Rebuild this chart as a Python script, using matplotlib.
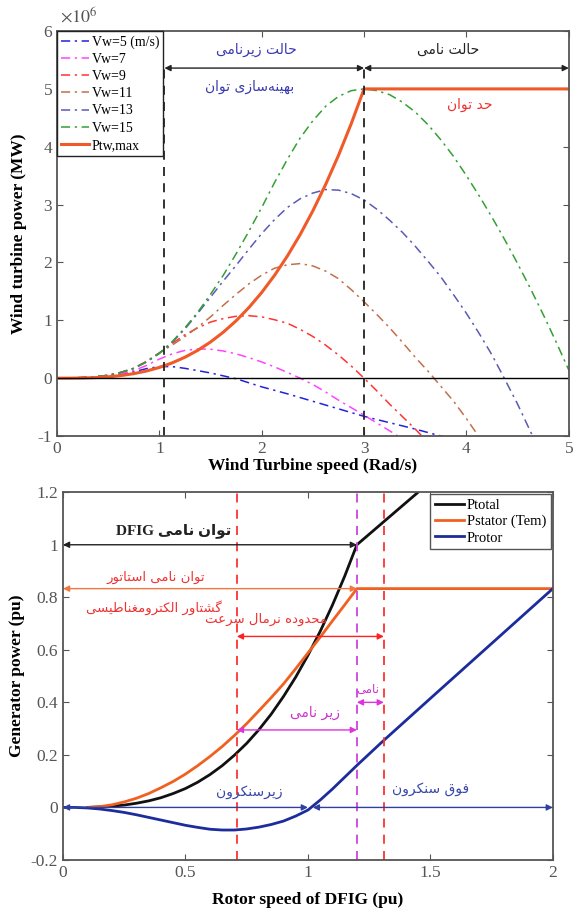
import matplotlib
matplotlib.use("Agg")
import matplotlib.pyplot as plt

plt.rcParams['font.family'] = ['Liberation Serif', 'DejaVu Sans']
plt.rcParams['axes.unicode_minus'] = False
plt.rcParams['mathtext.fontset'] = 'stix'

# ---- upper panel: turbine power (x1e6 W) against shaft speed (rad/s) ----
omega = [i * 0.125 for i in range(41)]
p_vw5 = [0, 0.003, 0.01, 0.022, 0.04, 0.07, 0.11, 0.165, 0.2, 0.2, 0.17,
         0.13, 0.09, 0.04, -0.01, -0.08, -0.15, -0.21, -0.27, -0.335, -0.4,
         -0.465, -0.53, -0.595, -0.66, -0.715, -0.77, -0.825, -0.88, -0.94, -1.0,
         -1.06, -1.12, -1.19, -1.25, -1.32, -1.4, -1.47, -1.55, -1.62, -1.7]
p_vw7 = [0, 0.003, 0.01, 0.022, 0.04, 0.075, 0.13, 0.22, 0.33, 0.42, 0.48,
         0.505, 0.5, 0.47, 0.42, 0.355, 0.28, 0.195, 0.1, 0.0, -0.11,
         -0.24, -0.38, -0.51, -0.64, -0.775, -0.91, -1.05, -1.2, -1.35, -1.5,
         -1.65, -1.8, -1.95, -2.1, -2.25, -2.4, -2.55, -2.7, -2.85, -3.0]
p_vw9 = [0, 0.003, 0.01, 0.025, 0.05, 0.1, 0.17, 0.29, 0.43, 0.6, 0.75,
         0.87, 0.97, 1.03, 1.07, 1.08, 1.06, 1.01, 0.95, 0.845, 0.72,
         0.57, 0.4, 0.21, 0.0, -0.22, -0.45, -0.665, -0.88, -1.11, -1.35,
         -1.6, -1.85, -2.1, -2.4, -2.7, -3.0, -3.3, -3.6, -3.9, -4.2]
p_vw11 = [0, 0.003, 0.01, 0.025, 0.05, 0.1, 0.17, 0.29, 0.44, 0.57, 0.72,
          0.88, 1.06, 1.26, 1.45, 1.63, 1.78, 1.9, 1.96, 1.98, 1.94,
          1.85, 1.72, 1.53, 1.32, 1.1, 0.87, 0.62, 0.36, 0.12, -0.14,
          -0.4, -0.7, -1.02, -1.35, -1.7, -2.0, -2.35, -2.7, -3.05, -3.4]
p_vw13 = [0, 0.003, 0.01, 0.025, 0.05, 0.1, 0.17, 0.28, 0.43, 0.62, 0.85,
          1.12, 1.4, 1.68, 1.95, 2.23, 2.5, 2.74, 2.95, 3.1, 3.2,
          3.26, 3.25, 3.19, 3.08, 2.92, 2.73, 2.52, 2.28, 2.02, 1.75,
          1.44, 1.12, 0.77, 0.4, -0.02, -0.45, -0.92, -1.4, -1.9, -2.4]
p_vw15 = [0, 0.003, 0.01, 0.025, 0.05, 0.1, 0.17, 0.28, 0.43, 0.63, 0.87,
          1.14, 1.45, 1.78, 2.15, 2.54, 2.95, 3.38, 3.78, 4.15, 4.45,
          4.7, 4.87, 4.97, 5.0, 4.97, 4.9, 4.77, 4.6, 4.38, 4.12,
          3.83, 3.5, 3.15, 2.78, 2.39, 1.98, 1.55, 1.1, 0.63, 0.14]
p_max = [0, 0.0004, 0.003, 0.01, 0.023, 0.045, 0.078, 0.124, 0.185, 0.264, 0.362,
         0.481, 0.625, 0.795, 0.992, 1.221, 1.481, 1.777, 2.109, 2.48, 2.894,
         3.35, 3.851, 4.401, 5.0, 5.0, 5.0, 5.0, 5.0, 5.0, 5.0,
         5.0, 5.0, 5.0, 5.0, 5.0, 5.0, 5.0, 5.0, 5.0, 5.0]
wind_labels = ['Vw=5 (m/s)', 'Vw=7', 'Vw=9', 'Vw=11', 'Vw=13', 'Vw=15']
wind_colors = ['#2222dd', '#ff44ff', '#ff3333', '#c0704a', '#5a5ab8', '#33a033']

omega_low = 1.05
omega_rated = 3.0
omega_end = 5.0
mode_arrow_y = 5.36

# ---- lower panel: DFIG powers (pu) against rotor speed (pu) ----
speed_tot = [0.1, 0.15, 0.2, 0.25, 0.3, 0.35, 0.4, 0.45, 0.5, 0.55, 0.6, 0.65,
             0.7, 0.75, 0.8, 0.85, 0.9, 0.95, 1.0, 1.05, 1.1, 1.15, 1.2, 1.45]
p_total = [0, 0.002, 0.005, 0.009, 0.016, 0.025, 0.037, 0.053, 0.072, 0.096, 0.125, 0.159,
           0.199, 0.244, 0.296, 0.355, 0.422, 0.496, 0.579, 0.67, 0.77, 0.88, 1.0, 1.2]
speed_stat = [0.1, 0.15, 0.2, 0.25, 0.3, 0.35, 0.4, 0.45, 0.5, 0.55, 0.6, 0.65,
              0.7, 0.75, 0.8, 0.85, 0.9, 0.95, 1.0, 1.05, 1.1, 1.15, 1.2, 2.0]
p_stator = [0, 0.003, 0.01, 0.021, 0.035, 0.053, 0.075, 0.099, 0.127, 0.159, 0.194, 0.232,
            0.274, 0.319, 0.368, 0.418, 0.47, 0.528, 0.588, 0.648, 0.71, 0.771, 0.833, 0.833]
speed_rot = [0, 0.05, 0.1, 0.15, 0.2, 0.25, 0.3, 0.35, 0.4, 0.45, 0.5, 0.55, 0.6, 0.65,
             0.7, 0.75, 0.8, 0.85, 0.9, 0.95, 1.0, 1.05, 1.1, 1.15, 1.2, 1.3, 1.5, 1.75, 2.0]
p_rotor = [0, 0, -0.002, -0.006, -0.012, -0.019, -0.028, -0.038, -0.048, -0.058, -0.068,
           -0.076, -0.083, -0.086, -0.086, -0.082, -0.075, -0.065, -0.052, -0.033, -0.01,
           0.028, 0.07, 0.115, 0.16, 0.247, 0.415, 0.624, 0.833]

sync_speed = 1.0
speed_min = 0.71
speed_rated = 1.2
speed_max = 1.31
p_rated_total = 1.0
p_rated_stator = 0.833

# ---- minimal Persian shaping (presentation forms, visual order) ----
FORMS = {
    'ا': ('\uFE8D', '\uFE8E'), 'د': ('\uFEA9', '\uFEAA'), 'ر': ('\uFEAD', '\uFEAE'),
    'ز': ('\uFEAF', '\uFEB0'), 'و': ('\uFEED', '\uFEEE'),
    'ب': ('\uFE8F', '\uFE90', '\uFE91', '\uFE92'), 'ت': ('\uFE95', '\uFE96', '\uFE97', '\uFE98'),
    'ح': ('\uFEA1', '\uFEA2', '\uFEA3', '\uFEA4'), 'س': ('\uFEB1', '\uFEB2', '\uFEB3', '\uFEB4'),
    'ش': ('\uFEB5', '\uFEB6', '\uFEB7', '\uFEB8'), 'ط': ('\uFEC1', '\uFEC2', '\uFEC3', '\uFEC4'),
    'ع': ('\uFEC9', '\uFECA', '\uFECB', '\uFECC'), 'غ': ('\uFECD', '\uFECE', '\uFECF', '\uFED0'),
    'ف': ('\uFED1', '\uFED2', '\uFED3', '\uFED4'), 'ق': ('\uFED5', '\uFED6', '\uFED7', '\uFED8'),
    'ک': ('\uFB8E', '\uFB8F', '\uFB90', '\uFB91'), 'گ': ('\uFB92', '\uFB93', '\uFB94', '\uFB95'),
    'ل': ('\uFEDD', '\uFEDE', '\uFEDF', '\uFEE0'), 'م': ('\uFEE1', '\uFEE2', '\uFEE3', '\uFEE4'),
    'ن': ('\uFEE5', '\uFEE6', '\uFEE7', '\uFEE8'), 'ه': ('\uFEE9', '\uFEEA', '\uFEEB', '\uFEEC'),
    'ی': ('\uFBFC', '\uFBFD', '\uFBFE', '\uFBFF'),
}


def fa(text):
    out = []
    for i, c in enumerate(text):
        if c not in FORMS:
            if c != '\u200c':
                out.append(c)
            continue
        prev = text[i - 1] if i > 0 else ''
        nxt = text[i + 1] if i + 1 < len(text) else ''
        forms = FORMS[c]
        jp = prev in FORMS and len(FORMS[prev]) == 4
        jn = len(forms) == 4 and nxt in FORMS
        if jp and jn:
            out.append(forms[3])
        elif jp:
            out.append(forms[1])
        elif jn:
            out.append(forms[2])
        else:
            out.append(forms[0])
    return ''.join(reversed(out))


FA = ['DejaVu Sans']
dashdot = (0, (6, 3, 1.5, 3))


def style_axes(ax):
    ax.tick_params(direction='in', top=True, right=True, length=4, width=0.8,
                   colors='#555555', labelsize=12.5, labelcolor='#555555')
    for sp in ax.spines.values():
        sp.set_color('#555555')
        sp.set_linewidth(1.3)


fig = plt.figure(figsize=(5.79, 9.08), dpi=100)

# ================= upper panel =================
ax1 = fig.add_axes([0.0984, 0.5198, 0.884, 0.446])
for vals, lab, col in zip([p_vw5, p_vw7, p_vw9, p_vw11, p_vw13, p_vw15],
                          wind_labels, wind_colors):
    ax1.plot(omega, vals, color=col, lw=1.1, linestyle=dashdot, label=lab)
ax1.plot(omega, p_max, color='#f05a28', lw=2.2, label='Ptw,max')
ax1.axhline(0, color='black', lw=1.0)
ax1.plot([omega_low, omega_low], [-1, mode_arrow_y], color='#222222', lw=1.3, ls=(0, (5, 4)))
ax1.plot([omega_rated, omega_rated], [-1, mode_arrow_y], color='#222222', lw=1.3, ls=(0, (5, 4)))

arrow_kw = dict(arrowstyle='<|-|>', color='#222222', lw=1.0, mutation_scale=9,
                shrinkA=0, shrinkB=0)
ax1.annotate('', xy=(omega_low, mode_arrow_y), xytext=(omega_rated, mode_arrow_y),
             arrowprops=arrow_kw)
ax1.annotate('', xy=(omega_rated, mode_arrow_y), xytext=(omega_end, mode_arrow_y),
             arrowprops=arrow_kw)

ax1.text(1.95, 5.67, fa('حالت زیرنامی'), family=FA, fontsize=10, color='#3a3ab0',
         ha='center', va='center')
ax1.text(1.88, 5.03, fa('بهینه‌سازی توان'), family=FA, fontsize=10, color='#3a3ab0',
         ha='center', va='center')
ax1.text(3.82, 5.67, fa('حالت نامی'), family=FA, fontsize=10, color='#222222',
         ha='center', va='center')
ax1.text(4.03, 4.72, fa('حد توان'), family=FA, fontsize=10, color='#f03030',
         ha='center', va='center')

ax1.set_xlim(0, 5)
ax1.set_ylim(-1, 6)
ax1.set_xticks([0, 1, 2, 3, 4, 5])
ax1.set_yticks([-1, 0, 1, 2, 3, 4, 5, 6])
style_axes(ax1)
ax1.set_xlabel('Wind Turbine speed (Rad/s)', fontsize=12.5, fontweight='bold', labelpad=1)
ax1.set_ylabel('Wind turbine power (MW)', fontsize=12.5, fontweight='bold', labelpad=8)
ax1.text(0.03, 6.08, r'$\times10^6$', fontsize=13, color='#555555', ha='left', va='bottom')

leg1 = ax1.legend(loc='upper left', fontsize=10, borderaxespad=0, handlelength=2.0,
                  handletextpad=0.2, labelspacing=0.3, borderpad=0.3, fancybox=False,
                  framealpha=1, edgecolor='#222222')
leg1.get_frame().set_linewidth(1.0)

# ================= lower panel =================
ax2 = fig.add_axes([0.1088, 0.0529, 0.846, 0.405])
ax2.plot(speed_tot, p_total, color='#111111', lw=2.0, label='Ptotal')
ax2.plot(speed_stat, p_stator, color='#f06020', lw=2.0, label='Pstator (Tem)')
ax2.plot(speed_rot, p_rotor, color='#1c2c9c', lw=2.0, label='Protor')

vline_kw = dict(lw=1.3, ls=(0, (5, 4)))
ax2.plot([speed_min, speed_min], [-0.2, 1.2], color='#ff3333', **vline_kw)
ax2.plot([speed_max, speed_max], [-0.2, 1.2], color='#ff3333', **vline_kw)
ax2.plot([speed_rated, speed_rated], [-0.2, 1.2], color='#cc44dd', **vline_kw)


def dbl_arrow(ax, x0, x1, y, color):
    ax.annotate('', xy=(x0, y), xytext=(x1, y),
                arrowprops=dict(arrowstyle='<|-|>', color=color, lw=1.0,
                                mutation_scale=9, shrinkA=0, shrinkB=0))


dbl_arrow(ax2, 0, speed_rated, p_rated_total, '#222222')
dbl_arrow(ax2, 0, speed_rated, p_rated_stator, '#f07840')
dbl_arrow(ax2, speed_min, speed_max, 0.651, '#ff2020')
dbl_arrow(ax2, speed_min, speed_rated, 0.295, '#dd33dd')
dbl_arrow(ax2, speed_rated, speed_max, 0.40, '#dd33dd')
dbl_arrow(ax2, 0, sync_speed, 0, '#3040a0')
dbl_arrow(ax2, sync_speed + 0.02, 2.0, 0, '#3040a0')

ax2.text(0.45, 1.055, 'DFIG ' + fa('توان نامی'), family=['Liberation Serif', 'DejaVu Sans'],
         fontsize=11, fontweight='bold', color='#222222', ha='center', va='center')
ax2.text(0.38, 0.876, fa('توان نامی استاتور'), family=FA, fontsize=9.5, color='#f03030',
         ha='center', va='center')
ax2.text(0.37, 0.76, fa('گشتاور الکترومغناطیسی'), family=FA, fontsize=9.5, color='#f03030',
         ha='center', va='center')
ax2.text(0.83, 0.715, fa('محدوده نرمال سرعت'), family=FA, fontsize=9.5, color='#f03030',
         ha='center', va='center')
ax2.text(1.03, 0.36, fa('زیر نامی'), family=FA, fontsize=10, color='#cc33cc',
         ha='center', va='center')
ax2.text(1.245, 0.45, fa('نامی'), family=FA, fontsize=8.5, color='#cc33cc',
         ha='center', va='center')
ax2.text(0.76, 0.06, fa('زیرسنکرون'), family=FA, fontsize=10, color='#3848a8',
         ha='center', va='center')
ax2.text(1.5, 0.07, fa('فوق سنکرون'), family=FA, fontsize=10, color='#3848a8',
         ha='center', va='center')

ax2.set_xlim(0, 2)
ax2.set_ylim(-0.2, 1.2)
ax2.set_xticks([0, 0.5, 1, 1.5, 2])
ax2.set_xticklabels(['0', '0.5', '1', '1.5', '2'])
ax2.set_yticks([-0.2, 0, 0.2, 0.4, 0.6, 0.8, 1, 1.2])
ax2.set_yticklabels(['-0.2', '0', '0.2', '0.4', '0.6', '0.8', '1', '1.2'])
style_axes(ax2)
ax2.set_xlabel('Rotor speed of DFIG (pu)', fontsize=12.5, fontweight='bold', labelpad=8)
ax2.set_ylabel('Generator power (pu)', fontsize=12.5, fontweight='bold', labelpad=4)

leg2 = ax2.legend(loc='upper right', fontsize=10.5, borderaxespad=0.15, handlelength=2.0,
                  handletextpad=0.2, labelspacing=0.2, borderpad=0.3, fancybox=False,
                  framealpha=1, edgecolor='#555555')
leg2.get_frame().set_linewidth(1.0)

fig.savefig('out.png', dpi=100)
